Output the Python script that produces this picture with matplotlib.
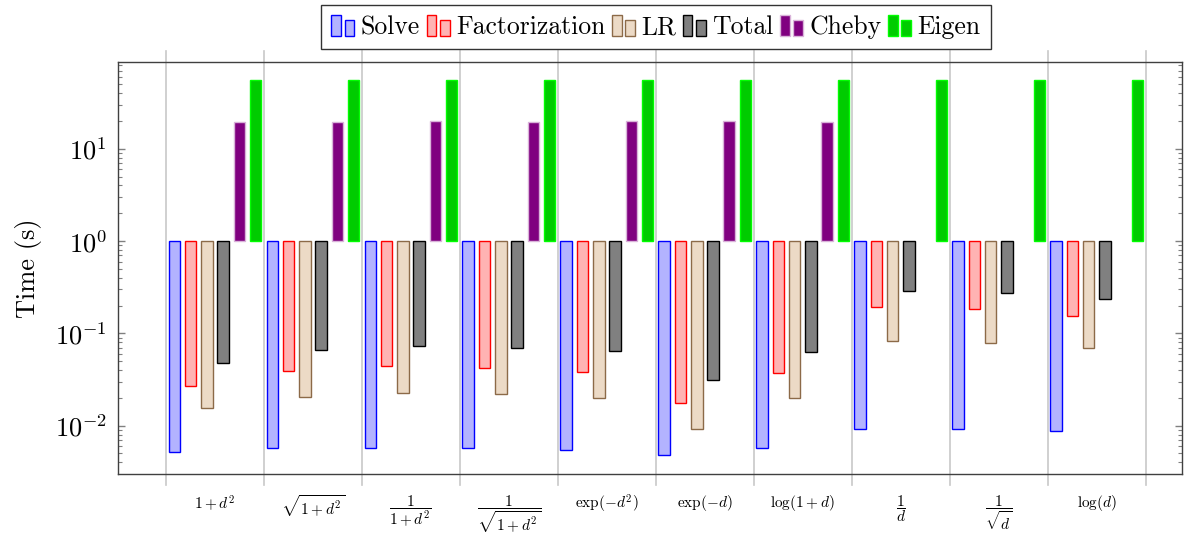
import numpy as np
import matplotlib
matplotlib.use('Agg')
import matplotlib.pyplot as plt
from matplotlib.patches import Rectangle, Patch
from matplotlib.legend_handler import HandlerBase
from matplotlib.ticker import LogLocator, NullFormatter
import matplotlib.transforms as mtransforms

plt.rcParams['font.family'] = 'serif'
plt.rcParams['font.serif'] = ['cmr10']
plt.rcParams['mathtext.fontset'] = 'cm'
plt.rcParams['axes.formatter.use_mathtext'] = True

## Data
kernels = [r'$1+d^2$', r'$\sqrt{1+d^2}$', r'$\dfrac{1}{1+d^2}$', r'$\dfrac{1}{\sqrt{1+d^2}}$',
           r'$\exp(-d^2)$', r'$\exp(-d)$', r'$\log(1+d)$', r'$\dfrac{1}{d}$',
           r'$\dfrac{1}{\sqrt{d}}$', r'$\log(d)$']
series = ['Solve', 'Factorization', 'LR', 'Total', 'Cheby', 'Eigen']
solve = [0.0052, 0.0058, 0.0058, 0.0057, 0.0055, 0.0048, 0.0057, 0.0093, 0.0093, 0.0087]
factorization = [0.0269, 0.0387, 0.0439, 0.042, 0.038, 0.0174, 0.037, 0.193, 0.183, 0.155]
lr = [0.0155, 0.0207, 0.0227, 0.022, 0.0199, 0.0091, 0.0202, 0.083, 0.078, 0.070]
total = [0.0472, 0.0654, 0.0728, 0.0698, 0.0637, 0.0312, 0.0627, 0.285, 0.271, 0.233]
cheby = [19.6, 19.6, 20.0, 19.6, 20.0, 20.0, 19.6, np.nan, np.nan, np.nan]
eigen = [55.5, 55.5, 55.5, 55.5, 55.5, 55.5, 55.5, 55.5, 55.5, 55.5]

## Style
faces = ['#b3b3ff', '#ffb3b3', '#ecdac6', '#808080', '#800080', '#00cc00']
edges = ['#0000ff', '#ff0000', '#8c6a48', '#000000', '#d9b3d9', '#00ff00']


class BarPair(HandlerBase):
    # pgfplots style ybar legend image: two small bars
    def create_artists(self, legend, orig, xd, yd, w, h, fontsize, trans):
        fc = orig.get_facecolor()
        ec = orig.get_edgecolor()
        bw = w * 0.42
        y0 = -yd - h * 0.12
        r1 = Rectangle((-xd, y0), bw, h * 1.2, fc=fc, ec=ec, lw=1.0, transform=trans)
        r2 = Rectangle((-xd + w * 0.58, y0), bw, h * 0.9, fc=fc, ec=ec, lw=1.0, transform=trans)
        return [r1, r2]


fig = plt.figure(figsize=(11.93, 5.42), dpi=100)
ax = fig.add_axes([118 / 1193, 1 - 473.7 / 542, (1182 - 118) / 1193, (473.7 - 61.7) / 542])

x = np.arange(1, len(kernels) + 1)
step = 0.166
bw = 0.118
data = [solve, factorization, lr, total, cheby, eigen]
for i, vals in enumerate(data):
    v = np.array(vals, dtype=float)
    ok = ~np.isnan(v)
    ax.bar(x[ok] + (i - 2.5) * step, v[ok] - 1, bottom=1, width=bw,
           color=faces[i], edgecolor=edges[i], linewidth=1.0, zorder=3)

ax.set_yscale('log')
ax.set_ylim(10 ** -2.52, 10 ** 1.943)
ax.set_xlim(0.01, 10.87)

# grid lines between groups, running past the frame
trans = mtransforms.blended_transform_factory(ax.transData, ax.transAxes)
for g in np.arange(0.5, len(kernels) + 1, 1.0):
    ax.plot([g, g], [-0.027, 1.026], color='#c8c8c8', lw=1.2, transform=trans, clip_on=False, zorder=1)

ax.set_xticks(x)
ax.set_xticklabels(kernels, fontsize=11)
ax.tick_params(axis='x', length=0, pad=14)

ax.yaxis.set_major_locator(LogLocator(base=10, numticks=10))
ax.yaxis.set_minor_locator(LogLocator(base=10, subs=np.arange(2, 10), numticks=20))
ax.yaxis.set_minor_formatter(NullFormatter())
ax.tick_params(axis='y', which='major', direction='in', length=5, width=1, color='#808080',
               labelsize=19, pad=8, right=True)
ax.tick_params(axis='y', which='minor', direction='in', length=3, width=0.8, color='#808080', right=True)
for s in ax.spines.values():
    s.set_color('#404040')
    s.set_linewidth(1.0)

ax.set_ylabel('Time (s)', fontsize=19, labelpad=9)

handles = [Patch(facecolor=faces[i], edgecolor=edges[i]) for i in range(len(series))]
leg = fig.legend(handles, series, loc='upper center', bbox_to_anchor=(656 / 1193, 1 - 5 / 542),
                 ncol=6, fontsize=18.5, frameon=True, fancybox=False, edgecolor='black',
                 handler_map={Patch: BarPair()}, handlelength=0.9, handletextpad=0.25,
                 columnspacing=0.25, borderpad=0.4, borderaxespad=0)
leg.get_frame().set_linewidth(1.0)

fig.savefig('out.png', dpi=100)
